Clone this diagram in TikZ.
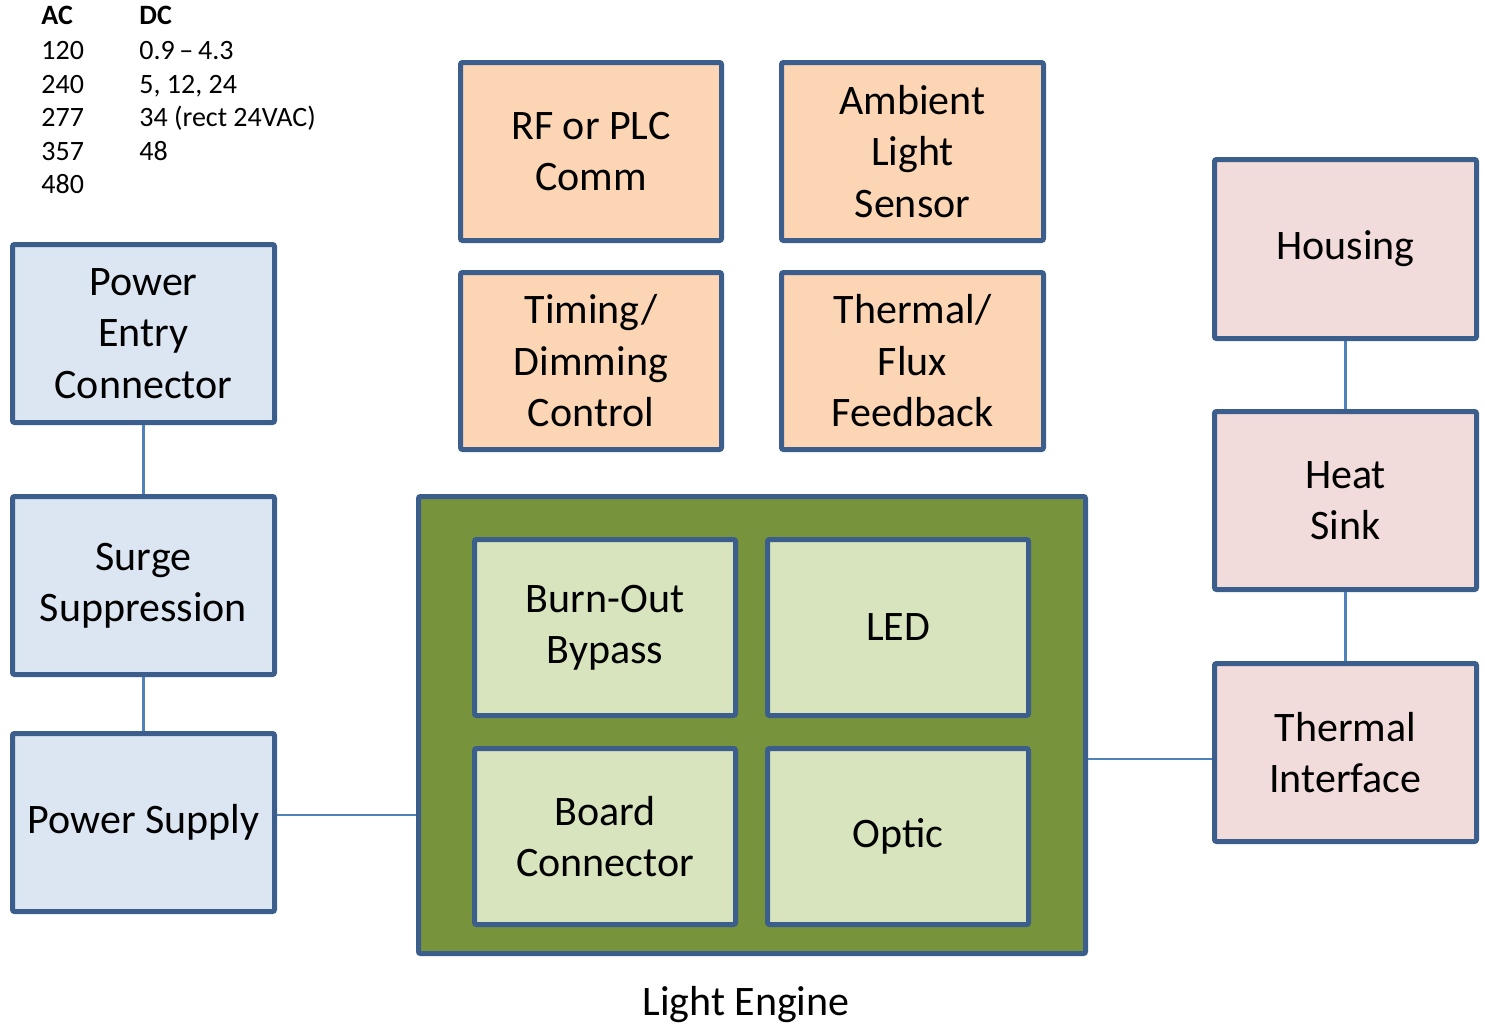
\documentclass[tikz,border=0pt]{standalone}
\usepackage{fontspec}
\setmainfont{Carlito}
\definecolor{bord}{HTML}{3B5E8C}
\definecolor{link}{HTML}{4F81BD}
\definecolor{bluef}{HTML}{DCE6F2}
\definecolor{orangef}{HTML}{FCD5B5}
\definecolor{pinkf}{HTML}{F2DCDB}
\definecolor{greenf}{HTML}{77933C}
\definecolor{lgreenf}{HTML}{D7E4BD}
\newcommand\blk[7]{\node[#6, minimum width={(#4-#2-5)*0.5pt}, minimum height={(#5-#3-5)*0.5pt}] (#1) at ({(#2+#4)/2},{(#3+#5)/2}) {#7};}
\begin{document}
\begin{tikzpicture}[x=0.5pt,y=-0.5pt,
  box/.style={draw=bord, line width=2.5pt, rounded corners=1pt, align=center, inner sep=0pt,
    font=\fontsize{21}{25.75}\selectfont, text=black},
  bluebox/.style={box, fill=bluef},
  orangebox/.style={box, fill=orangef},
  pinkbox/.style={box, fill=pinkf},
  greenbox/.style={box, fill=greenf},
  lgreenbox/.style={box, fill=lgreenf},
  conn/.style={draw=link, line width=1.25pt},
  tab/.style={anchor=base west, inner sep=0pt, font=\fontsize{14}{16.75}\selectfont},
  lbl/.style={inner sep=0pt, font=\fontsize{21}{25.75}\selectfont}]
\useasboundingbox (0,0) rectangle (1485,1024);
% table
\node[tab, font=\fontsize{14}{16.75}\selectfont\bfseries] (hac) at (41,24) {AC};
\node[tab, font=\fontsize{14}{16.75}\selectfont\bfseries] (hdc) at (139,24) {DC};
\node[tab] (a1) at (41,59) {120};
\node[tab] (a2) at (41,93) {240};
\node[tab] (a3) at (41,126) {277};
\node[tab] (a4) at (41,160) {357};
\node[tab] (a5) at (41,193) {480};
\node[tab] (d1) at (139,59) {0.9\,--\,4.3};
\node[tab] (d2) at (139,93) {5, 12, 24};
\node[tab] (d3) at (139,126) {34 (rect 24VAC)};
\node[tab] (d4) at (139,160) {48};
% left column
\blk{pec}{10}{242}{277}{425}{bluebox}{Power\\Entry\\Connector}
\blk{surge}{10}{494}{277}{677}{bluebox}{Surge\\Suppression}
\blk{psu}{10}{731}{277}{914}{bluebox}{Power Supply}
% top middle
\blk{rf}{458}{60}{724}{243}{orangebox}{RF or PLC\\Comm}
\blk{amb}{779}{60}{1046}{243}{orangebox}{Ambient\\Light\\Sensor}
\blk{tim}{458}{270}{724}{452}{orangebox}{Timing/\\Dimming\\Control}
\blk{thf}{779}{270}{1046}{452}{orangebox}{Thermal/\\Flux\\Feedback}
% light engine
\blk{le}{416}{494}{1088}{956}{greenbox}{}
\blk{bob}{472}{537}{738}{718}{lgreenbox}{Burn-Out\\Bypass}
\blk{led}{765}{537}{1031}{718}{lgreenbox}{LED}
\blk{bc}{472}{746}{738}{927}{lgreenbox}{Board\\Connector}
\blk{opt}{765}{746}{1031}{927}{lgreenbox}{Optic}
\node[lbl, anchor=base] (lelbl) at (746,1015) {Light Engine};
% right column
\blk{hous}{1212}{157}{1479}{341}{pinkbox}{Housing}
\blk{hs}{1212}{409}{1479}{592}{pinkbox}{Heat\\Sink}
\blk{ti}{1212}{661}{1479}{844}{pinkbox}{Thermal\\Interface}
% connectors
\draw[conn] (pec.south) -- (surge.north);
\draw[conn] (surge.south) -- (psu.north);
\draw[conn] (psu.east |- 0,815) -- (le.west |- 0,815);
\draw[conn] (le.east |- 0,759) -- (ti.west |- 0,759);
\draw[conn] (hous.south) -- (hs.north);
\draw[conn] (hs.south) -- (ti.north);
\end{tikzpicture}
\end{document}
